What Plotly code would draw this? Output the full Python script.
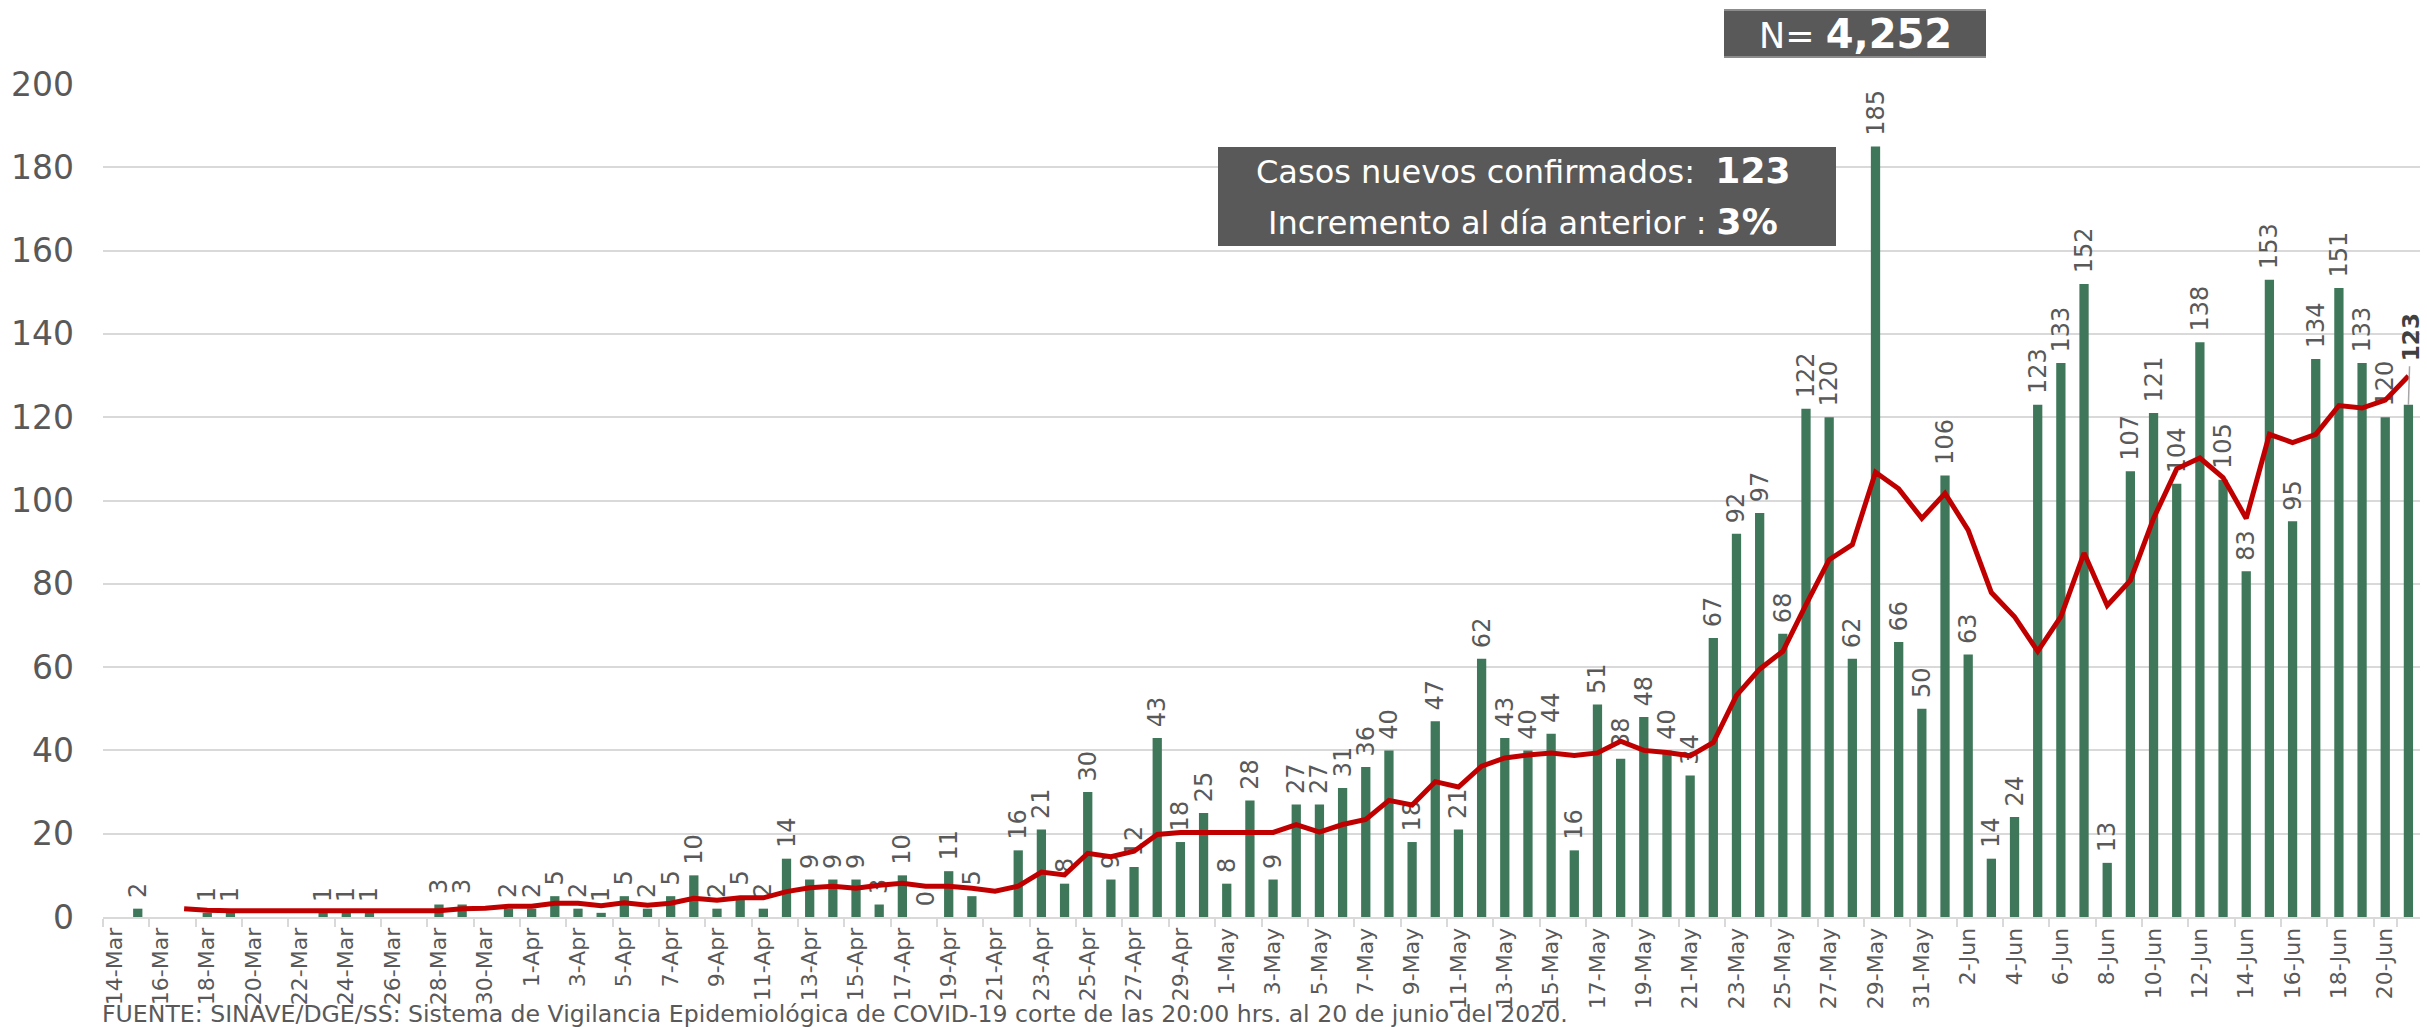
import plotly.graph_objects as go

dates = [
    "14-Mar", "15-Mar", "16-Mar", "17-Mar", "18-Mar", "19-Mar", "20-Mar", "21-Mar", "22-Mar", "23-Mar",
    "24-Mar", "25-Mar", "26-Mar", "27-Mar", "28-Mar", "29-Mar", "30-Mar", "31-Mar",
    "1-Apr", "2-Apr", "3-Apr", "4-Apr", "5-Apr", "6-Apr", "7-Apr", "8-Apr", "9-Apr", "10-Apr",
    "11-Apr", "12-Apr", "13-Apr", "14-Apr", "15-Apr", "16-Apr", "17-Apr", "18-Apr", "19-Apr", "20-Apr",
    "21-Apr", "22-Apr", "23-Apr", "24-Apr", "25-Apr", "26-Apr", "27-Apr", "28-Apr", "29-Apr", "30-Apr",
    "1-May", "2-May", "3-May", "4-May", "5-May", "6-May", "7-May", "8-May", "9-May", "10-May",
    "11-May", "12-May", "13-May", "14-May", "15-May", "16-May", "17-May", "18-May", "19-May", "20-May",
    "21-May", "22-May", "23-May", "24-May", "25-May", "26-May", "27-May", "28-May", "29-May", "30-May",
    "31-May",
    "1-Jun", "2-Jun", "3-Jun", "4-Jun", "5-Jun", "6-Jun", "7-Jun", "8-Jun", "9-Jun", "10-Jun",
    "11-Jun", "12-Jun", "13-Jun", "14-Jun", "15-Jun", "16-Jun", "17-Jun", "18-Jun", "19-Jun", "20-Jun",
    "21-Jun",
]

cases = [
    None, 2, None, None, 1, 1, None, None, None, 1,
    1, 1, None, None, 3, 3, None, 2,
    2, 5, 2, 1, 5, 2, 5, 10, 2, 5,
    2, 14, 9, 9, 9, 3, 10, 0, 11, 5,
    None, 16, 21, 8, 30, 9, 12, 43, 18, 25,
    8, 28, 9, 27, 27, 31, 36, 40, 18, 47,
    21, 62, 43, 40, 44, 16, 51, 38, 48, 40,
    34, 67, 92, 97, 68, 122, 120, 62, 185, 66,
    50,
    106, 63, 14, 24, 123, 133, 152, 13, 107, 121,
    104, 138, 105, 83, 153, 95, 134, 151, 133, 120,
    123,
]

avg7 = [
    None, None, None, 2.0, 1.6, 1.5, 1.5, 1.4, 1.4, 1.3,
    1.3, 1.3, 1.3, 1.4, 1.5, 2.0, 2.1, 2.6,
    2.6, 3.3, 3.3, 2.7, 3.4, 2.8, 3.3, 4.5, 4.0, 4.6,
    4.6, 6.1, 7.0, 7.4, 6.9, 7.6, 8.1, 7.4, 7.4, 6.9,
    6.2, 7.4, 10.8, 10.1, 15.3, 14.5, 15.8, 19.8, 20.3, 20.3,
    20.3, 20.3, 20.3, 22.2, 20.4, 22.2, 23.4, 28.0, 26.9, 32.5,
    31.2, 36.2, 38.2, 38.9, 39.4, 38.8, 39.4, 42.2, 40.0, 39.5,
    38.7, 41.9, 53.2, 59.5, 63.8, 75.0, 85.8, 89.4, 106.8, 102.8,
    95.7,
    101.7, 92.9, 77.9, 72.1, 63.8, 72.1, 87.4, 74.8, 80.8, 95.7,
    107.6, 110.2, 105.5, 95.7, 115.9, 113.9, 115.9, 122.8, 122.2, 124.1,
    129.9,
]

tick_labels = dates[0::2]
y_ticks = [0, 20, 40, 60, 80, 100, 120, 140, 160, 180, 200]

total_label = "4,252"
new_cases_label = "123"
increase_label = "3%"
footnote = ("FUENTE: SINAVE/DGE/SS: Sistema de Vigilancia Epidemiológica de COVID-19 "
            "corte de las 20:00 hrs. al 20 de junio del 2020.")

assert len(dates) == 100 and len(cases) == 100 and len(avg7) == 100

# ---- layout geometry (pixels) ----
W, H = 2427, 1027
ML, MR, MT, MB = 103, 7, 84, 110
PW, PH = W - ML - MR, H - MT - MB


def px(x):
    return (x - ML) / PW


def py(y):
    return (H - MB - y) / PH


FONT = "DejaVu Sans"
GRAY = "#595959"
GREEN = "#3E7759"
RED = "#C00000"

bar_text = [("" if v is None else " " + str(v)) for v in cases]
bar_text[-1] = ""  # last label drawn separately (bold with leader)

fig = go.Figure()
fig.add_trace(go.Bar(
    x=dates, y=cases, text=bar_text, textposition="outside", textangle=-90,
    constraintext="none", cliponaxis=False,
    textfont=dict(family=FONT, size=24, color=GRAY),
    marker=dict(color=GREEN, line=dict(width=0)),
    hoverinfo="x+y", showlegend=False,
))
fig.add_trace(go.Scatter(
    x=dates, y=avg7, mode="lines", line=dict(color=RED, width=5),
    connectgaps=False, showlegend=False, hoverinfo="x+y",
))

shapes = [
    dict(type="rect", xref="paper", yref="paper", x0=px(1724), x1=px(1986), y0=py(58), y1=py(9),
         fillcolor="#595959", line=dict(width=0), layer="above"),
    dict(type="line", xref="paper", yref="paper", x0=px(1724), x1=px(1986), y0=py(10), y1=py(10),
         line=dict(color="#8C8C8C", width=2), layer="above"),
    dict(type="line", xref="paper", yref="paper", x0=px(1724), x1=px(1986), y0=py(57), y1=py(57),
         line=dict(color="#8C8C8C", width=2), layer="above"),
    dict(type="rect", xref="paper", yref="paper", x0=px(1218), x1=px(1836), y0=py(246), y1=py(147),
         fillcolor="#595959", line=dict(width=0), layer="above"),
]

annotations = [
    dict(xref="paper", yref="paper", x=px(1855), y=py(34), xanchor="center", yanchor="middle",
         text="N= <b><span style='font-size:40px'>" + total_label + "</span></b>",
         showarrow=False, font=dict(family=FONT, size=35, color="white")),
    dict(xref="paper", yref="paper", x=px(1523), y=py(171), xanchor="center", yanchor="middle",
         text="Casos nuevos confirmados:  <b><span style='font-size:36px'>" + new_cases_label + "</span></b>",
         showarrow=False, font=dict(family=FONT, size=32, color="white")),
    dict(xref="paper", yref="paper", x=px(1523), y=py(221), xanchor="center", yanchor="middle",
         text="Incremento al día anterior : <b><span style='font-size:36px'>" + increase_label + "</span></b>",
         showarrow=False, font=dict(family=FONT, size=32, color="white")),
    dict(x=dates[-1], y=cases[-1], xref="x", yref="y",
         text="<b>" + str(cases[-1]) + "</b>", textangle=-90,
         showarrow=True, arrowhead=0, arrowwidth=1.5, arrowcolor="#A6A6A6",
         ax=2, ay=-68, standoff=0, startstandoff=4,
         font=dict(family=FONT, size=23, color="#404040")),
    dict(xref="paper", yref="paper", x=px(100), y=py(1014), xanchor="left", yanchor="middle",
         text=footnote, showarrow=False, font=dict(family=FONT, size=23.6, color=GRAY)),
]

fig.update_layout(
    width=W, height=H,
    margin=dict(l=ML, r=MR, t=MT, b=MB, autoexpand=False),
    paper_bgcolor="white", plot_bgcolor="white",
    bargap=0.6,
    shapes=shapes, annotations=annotations,
    font=dict(family=FONT, color=GRAY),
    xaxis=dict(
        type="category", categoryorder="array", categoryarray=dates,
        tickmode="array", tickvals=tick_labels, ticktext=tick_labels,
        tickson="boundaries", ticks="outside", ticklen=8, tickwidth=2, tickcolor="#D9D9D9",
        showline=True, linecolor="#D9D9D9", linewidth=2, showgrid=False,
        tickangle=-90, tickfont=dict(family=FONT, size=22, color=GRAY),
        range=[-0.5, 99.5],
    ),
    yaxis=dict(
        range=[0, 200], tickmode="array", tickvals=y_ticks,
        showgrid=True, gridcolor="#D9D9D9", gridwidth=2, zeroline=False, showline=False,
        tickfont=dict(family=FONT, size=33, color=GRAY), ticklabelstandoff=28,
    ),
)

fig.write_html(
    "out.html",
    config={"displayModeBar": False},
    post_script="document.body.style.margin='0px';document.body.style.overflow='hidden';",
)
